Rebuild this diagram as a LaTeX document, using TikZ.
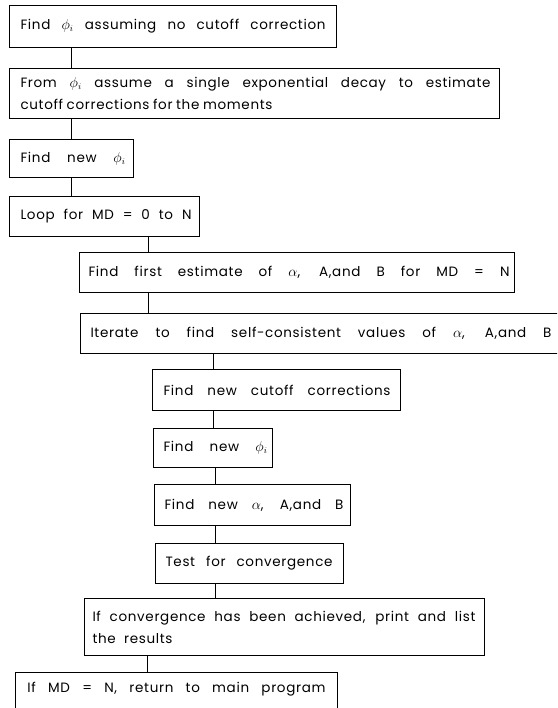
\documentclass[tikz,border=0pt]{standalone}
\usepackage{fontspec}
\setmainfont[LetterSpace=5]{Poppins}
\newcommand\tlin[3]{\hspace*{#1pt}\makebox[#2pt][s]{\spaceskip=4.5pt plus 1fil minus 1.5pt\xspaceskip=4.5pt plus 1fil minus 1.5pt\relax #3}}
\newcommand\boxfont{\fontsize{13.5}{22}\selectfont}
\begin{document}
\begin{tikzpicture}[x=1pt,y=-1pt,
  box/.style={draw, line width=1pt, anchor=north west, inner xsep=0pt, inner ysep=0pt,
    align=left, font=\boxfont},
  link/.style={line width=1pt}]
\useasboundingbox (0,0) rectangle (557,708);
\clip (0,0) rectangle (557,708);
\node[box, text width=327pt, minimum height=42pt] (b1) at (9,5)
  {\tlin{11}{305}{Find $\phi_i$ assuming no cutoff correction}};
\node[box, text width=490pt, minimum height=50pt] (b2) at (9,68)
  {\tlin{11}{470}{From $\phi_i$ assume a single exponential decay to estimate}\\
   \tlin{11}{252}{cutoff corrections for the moments}};
\node[box, text width=124pt, minimum height=38pt] (b3) at (9,139)
  {\tlin{11}{105}{Find new $\phi_i$}};
\node[box, text width=190pt, minimum height=40pt] (b4) at (9,196)
  {\tlin{11}{171}{Loop for MD = 0 to N}};
\node[box, text width=435pt, minimum height=40pt] (b5) at (79,252)
  {\tlin{9}{421}{Find first estimate of $\alpha$, A,and B for MD = N}};
\node[box, text width=520pt, minimum height=40pt] (b6) at (80,313)
  {\tlin{10}{461}{Iterate to find self-consistent values of $\alpha$, A,and B}};
\node[box, text width=248pt, minimum height=41pt] (b7) at (152,369)
  {\tlin{11}{227}{Find new cutoff corrections}};
\node[box, text width=119pt, minimum height=39pt] (b8) at (153,428)
  {\tlin{10}{104}{Find new $\phi_i$}};
\node[box, text width=196pt, minimum height=41pt] (b9) at (154,484)
  {\tlin{10}{179}{Find new $\alpha$, A,and B}};
\node[box, text width=188pt, minimum height=40pt] (b10) at (155,543)
  {\tlin{10}{167}{Test for convergence}};
\node[box, text width=400pt, minimum height=57pt] (b11) at (84,598)
  {\tlin{8}{383}{If convergence has been achieved, print and list}\\
   \tlin{8}{80}{the results}};
\node[box, text width=322pt, minimum height=56pt] (b12) at (15,672)
  {\raisebox{0pt}[0pt][16pt]{\tlin{12}{298}{If MD = N, return to main program}}};
\coordinate (xa) at (71,0);
\coordinate (xb) at (148,0);
\coordinate (xc) at (213,0);
\coordinate (xd) at (215,0);
\coordinate (xe) at (147,0);
\draw[link] (b1.south -| xa) -- (b2.north -| xa);
\draw[link] (b2.south -| xa) -- (b3.north -| xa);
\draw[link] (b3.south -| xa) -- (b4.north -| xa);
\draw[link] (b4.south -| xb) -- (b5.north -| xb);
\draw[link] (b5.south -| xb) -- (b6.north -| xb);
\draw[link] (b6.south -| xc) -- (b7.north -| xc);
\draw[link] (b7.south -| xc) -- (b8.north -| xc);
\draw[link] (b8.south -| xd) -- (b9.north -| xd);
\draw[link] (b9.south -| xd) -- (b10.north -| xd);
\draw[link] (b10.south -| xd) -- (b11.north -| xd);
\draw[link] (b11.south -| xe) -- (b12.north -| xe);
\end{tikzpicture}
\end{document}
